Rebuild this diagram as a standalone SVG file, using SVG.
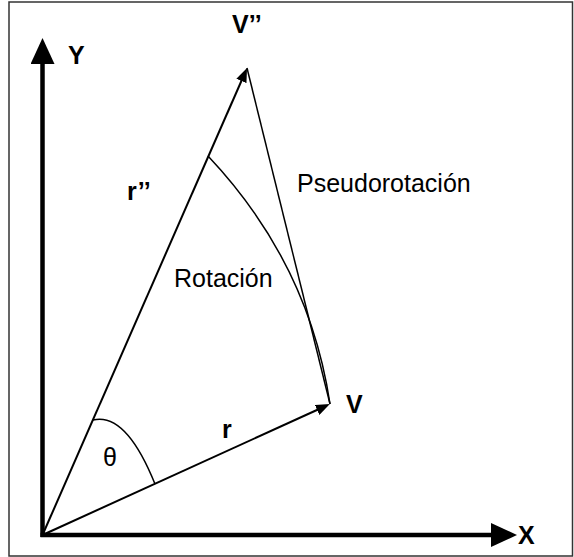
<svg xmlns="http://www.w3.org/2000/svg" width="574" height="557" viewBox="0 0 574 557">
  <style>
    .lbl { font-family: "Liberation Sans", Arial, sans-serif; font-size: 25px; fill: #000; }
    .b { font-weight: bold; }
    .axis { stroke: #000; stroke-width: 4.5; fill: none; }
    .vec { stroke: #000; stroke-width: 2; fill: none; }
    .thin { stroke: #000; stroke-width: 1.5; fill: none; }
  </style>
  <defs>
    <marker id="axHead" markerUnits="userSpaceOnUse" viewBox="0 0 26 24" refX="0" refY="12" markerWidth="26" markerHeight="24" orient="auto">
      <path d="M0,0 L26,12 L0,24 z" fill="#000"/>
    </marker>
    <marker id="vecHead" markerUnits="userSpaceOnUse" viewBox="0 0 14 11" refX="1" refY="5.5" markerWidth="14" markerHeight="11" orient="auto">
      <path d="M0,0 L14,5.5 L0,11 z" fill="#000"/>
    </marker>
  </defs>

  <rect x="9" y="2" width="563.5" height="554" fill="#fff" stroke="#333" stroke-width="1.5"/>

  <g id="connectors">
    <line id="axisY" class="axis" x1="42.5" y1="537" x2="42.5" y2="64" marker-end="url(#axHead)"/>
    <line id="axisX" class="axis" x1="40.5" y1="535" x2="491" y2="535" marker-end="url(#axHead)"/>
    <line id="vecR2" class="vec" x1="42.5" y1="535" x2="241.8" y2="80" marker-end="url(#vecHead)"/>
    <line id="vecR" class="vec" x1="42.5" y1="535" x2="318" y2="409.5" marker-end="url(#vecHead)"/>
    <line id="pseudo" class="thin" x1="247" y1="68" x2="330" y2="404"/>
    <path id="rotArc" class="thin" d="M208,156 Q309,263 330,404"/>
    <path id="thetaArc" class="thin" d="M93,420 Q126,412 155,484"/>
  </g>

  <g id="label-Vpp"><text class="lbl b" x="232" y="33">V’’</text></g>
  <g id="label-Y"><text class="lbl b" x="68" y="64">Y</text></g>
  <g id="label-rpp"><text class="lbl b" x="127" y="200">r’’</text></g>
  <g id="label-pseudo"><text class="lbl" x="297" y="192">Pseudorotación</text></g>
  <g id="label-rot"><text class="lbl" x="174" y="287">Rotación</text></g>
  <g id="label-V"><text class="lbl b" x="346" y="413">V</text></g>
  <g id="label-r"><text class="lbl b" x="222" y="438">r</text></g>
  <g id="label-theta"><text class="lbl" x="103" y="466">θ</text></g>
  <g id="label-X"><text class="lbl b" x="518" y="544">X</text></g>
</svg>
